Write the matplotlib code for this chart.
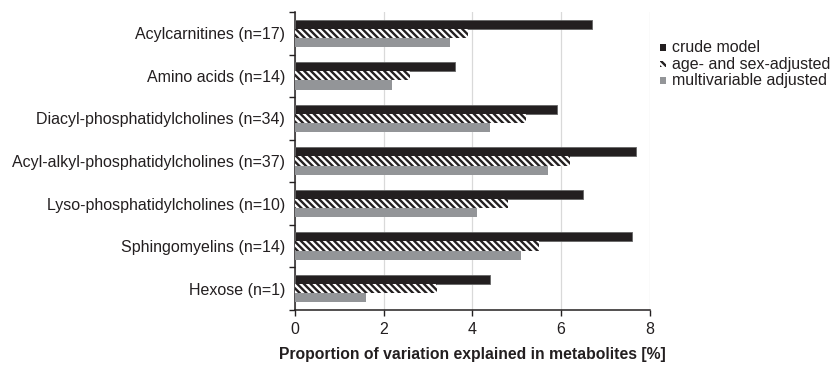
import matplotlib
matplotlib.use("Agg")
import matplotlib.pyplot as plt
from matplotlib.patches import Rectangle
import numpy as np

plt.rcParams['font.family'] = ['Liberation Sans', 'DejaVu Sans']
plt.rcParams['hatch.linewidth'] = 1.7

categories = ["Acylcarnitines (n=17)", "Amino acids (n=14)",
              "Diacyl-phosphatidylcholines (n=34)",
              "Acyl-alkyl-phosphatidylcholines (n=37)",
              "Lyso-phosphatidylcholines (n=10)",
              "Sphingomyelins (n=14)", "Hexose (n=1)"]
crude = [6.7, 3.6, 5.9, 7.7, 6.5, 7.6, 4.4]
age_sex = [3.9, 2.6, 5.2, 6.2, 4.8, 5.5, 3.2]
multivar = [3.5, 2.2, 4.4, 5.7, 4.1, 5.1, 1.6]
series_names = ["crude model", "age- and sex-adjusted", "multivariable adjusted"]
xticks = [0, 2, 4, 6, 8]

DARK = '#231f20'
GRAY = '#939598'
HATCH = '\\' * 5

fig = plt.figure(figsize=(8.33, 3.65), dpi=100)
ax = fig.add_axes([0.354, 0.151, 0.426, 0.816])

n = len(categories)
y = np.arange(n)[::-1].astype(float)
h = 0.215
ax.barh(y + h, crude, height=h, color=DARK, edgecolor='#666666', linewidth=0.6, zorder=3)
ax.barh(y, age_sex, height=h, color='white', edgecolor=DARK, hatch=HATCH, linewidth=0, zorder=3)
ax.barh(y - h, multivar, height=h, color=GRAY, edgecolor=GRAY, linewidth=0, zorder=3)

ax.set_xlim(0, 8)
ax.set_ylim(-0.5, n - 0.5)
ax.set_xticks(xticks)
ax.set_xticklabels([str(t) for t in xticks], fontsize=11.5, color=DARK)
ax.set_yticks(y)
ax.set_yticklabels(categories, fontsize=11.5, color=DARK)
ax.tick_params(axis='y', length=0, pad=7)
ax.set_yticks(np.arange(-0.5, n, 1.0), minor=True)
ax.tick_params(axis='y', which='minor', length=4, width=1, color=DARK, direction='out')
ax.tick_params(axis='x', length=4, width=1, color=DARK, direction='out', pad=5)
ax.xaxis.grid(True, color='#d9d9d9', linewidth=0.9, zorder=0)
ax.set_axisbelow(True)
for s in ['top', 'right']:
    ax.spines[s].set_visible(False)
for s in ['left', 'bottom']:
    ax.spines[s].set_color(DARK)
    ax.spines[s].set_linewidth(1.1)

ax.set_xlabel("Proportion of variation explained in metabolites [%]",
              fontsize=11.3, fontweight='bold', color=DARK, labelpad=7)

# legend (manual, compact spacing as in reference)
W, H = 833.0, 365.0
styles = [dict(facecolor=DARK, edgecolor=DARK, linewidth=0),
          dict(facecolor='white', edgecolor=DARK, hatch=HATCH, linewidth=0),
          dict(facecolor=GRAY, edgecolor=GRAY, linewidth=0)]
rows_y = [47.5, 64.0, 80.5]
for name, st, yy in zip(series_names, styles, rows_y):
    fig.patches.append(Rectangle((660 / W, 1 - (yy + 3) / H), 6 / W, 6 / H,
                                 transform=fig.transFigure, figure=fig, **st))
    fig.text(672.5 / W, 1 - yy / H, name, fontsize=11.5, color=DARK,
             ha='left', va='center')

fig.savefig("out.png", dpi=100)
